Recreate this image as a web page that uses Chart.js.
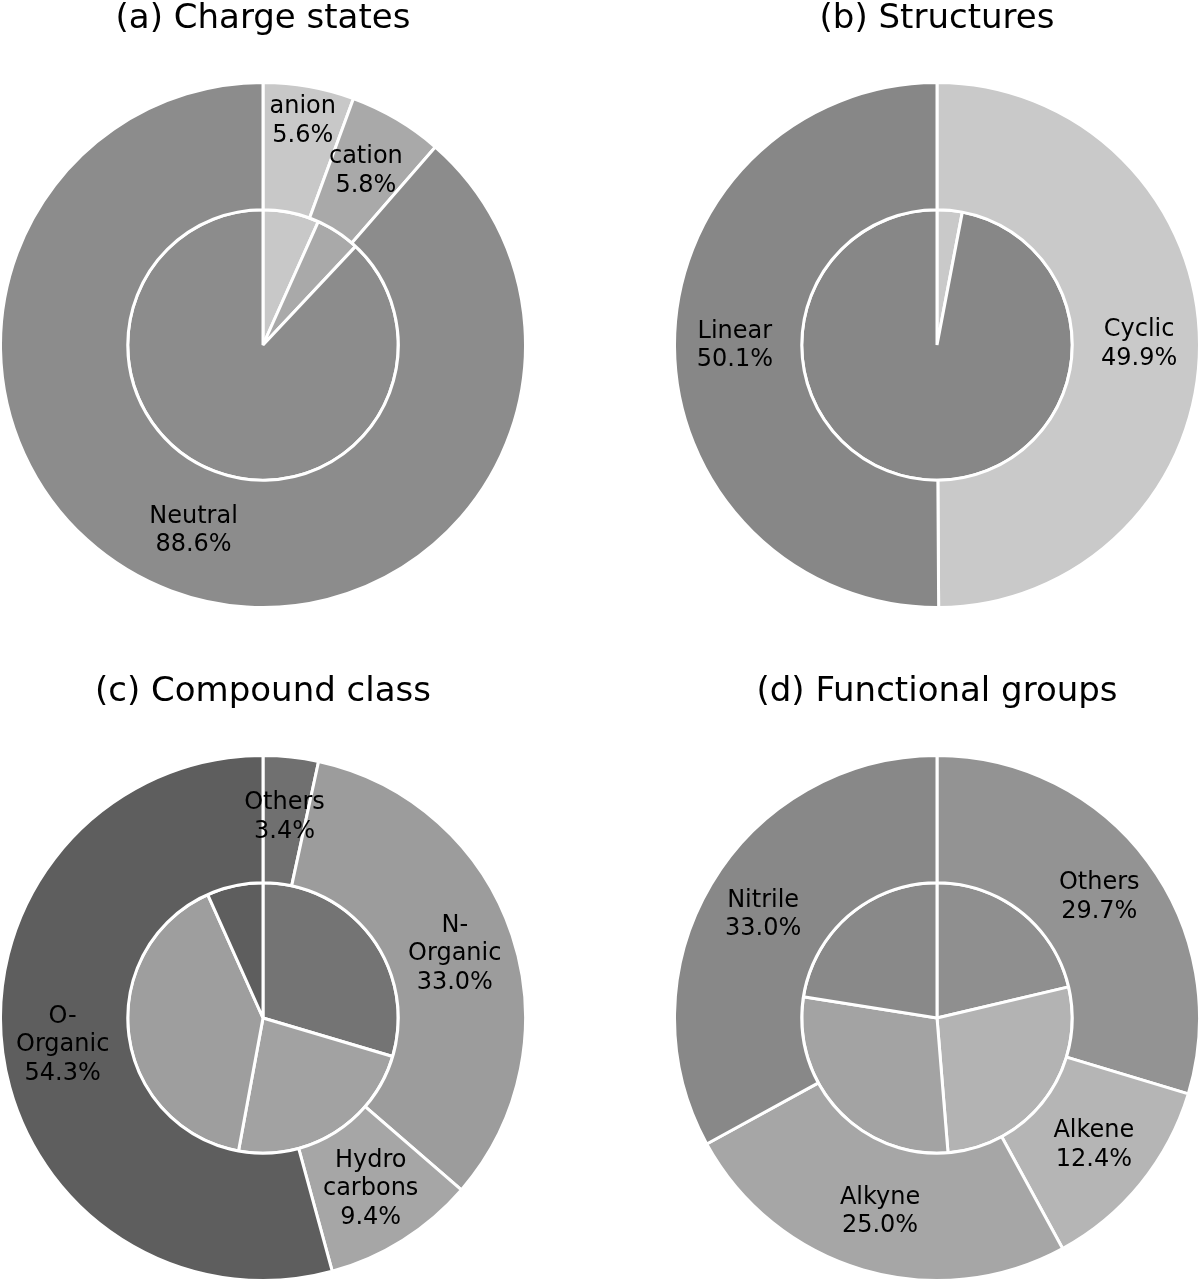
<!DOCTYPE html>
<html>
<head>
<meta charset="utf-8">
<script src="https://cdn.jsdelivr.net/npm/chart.js@4.4.0/dist/chart.umd.min.js"></script>
<style>
    body { margin: 0; background: #fff; width: 1200px; height: 1281px; overflow: hidden; position: relative; }
    canvas { position: absolute; }
</style>
</head>
<body>
<canvas id="chargeChart" width="528" height="616" style="left:-1px;top:-7px"></canvas>
<canvas id="structChart" width="528" height="616" style="left:673px;top:-7px"></canvas>
<canvas id="classChart" width="528" height="616" style="left:-1px;top:666px"></canvas>
<canvas id="groupChart" width="528" height="616" style="left:673px;top:666px"></canvas>
<script>
// (a) Charge states
const chargeLabels = ['anion', 'cation', 'Neutral'];
const chargeOuter = [5.6, 5.8, 88.6];
const chargeInner = [6.7, 5.3, 88.0];

// (b) Structures
const structLabels = ['Cyclic', 'Linear'];
const structOuter = [49.9, 50.1];
const structInner = [3.0, 97.0];

// (c) Compound class
const classLabels = ['Others', 'N-\nOrganic', 'Hydro\ncarbons', 'O-\nOrganic'];
const classOuter = [3.4, 33.0, 9.4, 54.3];
const classInner = [29.6, 23.3, 40.4, 6.7];

// (d) Functional groups
const groupLabels = ['Others', 'Alkene', 'Alkyne', 'Nitrile'];
const groupOuter = [29.7, 12.4, 25.0, 33.0];
const groupInner = [21.3, 27.4, 28.8, 22.5];

// writes "name / xx.x%" inside each outer wedge
const sliceLabels = {
    id: 'sliceLabels',
    afterDatasetsDraw(chart, args, opts) {
        const ctx = chart.ctx;
        const meta = chart.getDatasetMeta(0);
        const values = chart.data.datasets[0].data;
        ctx.save();
        ctx.font = '24px "DejaVu Sans"';
        ctx.fillStyle = '#000';
        ctx.textAlign = 'center';
        ctx.textBaseline = 'middle';
        meta.data.forEach((arc, i) => {
            const p = arc.getProps(['x', 'y', 'startAngle', 'endAngle', 'outerRadius']);
            const mid = (p.startAngle + p.endAngle) / 2;
            const d = (opts.dist && opts.dist[i]) || 0.77;
            const r = p.outerRadius * d;
            const x = p.x + Math.cos(mid) * r;
            const y = p.y + Math.sin(mid) * r;
            const lines = chart.data.labels[i].split('\n').concat(values[i].toFixed(1) + '%');
            const lh = 28.5;
            lines.forEach((t, k) => ctx.fillText(t, x, y + (k - (lines.length - 1) / 2) * lh));
        });
        ctx.restore();
    }
};

function makePanel(id, title, labels, outer, inner, outerColors, innerColors, dist) {
    const ctx = document.getElementById(id).getContext('2d');
    return new Chart(ctx, {
        type: 'pie',
        data: {
            labels: labels,
            datasets: [
                { data: outer, backgroundColor: outerColors, borderColor: '#fff', borderWidth: 3, weight: 127 },
                { data: inner, backgroundColor: innerColors, borderColor: '#fff', borderWidth: 3, weight: 135 }
            ]
        },
        options: {
            responsive: false,
            animation: false,
            layout: { padding: 0 },
            plugins: {
                legend: { display: false },
                tooltip: { enabled: false },
                title: {
                    display: true,
                    text: title,
                    color: '#000',
                    font: { family: 'DejaVu Sans', size: 34, weight: 'normal' },
                    padding: { top: 6, bottom: 41.2 }
                },
                sliceLabels: { dist: dist }
            }
        },
        plugins: [sliceLabels]
    });
}

makePanel('chargeChart', '(a) Charge states', chargeLabels, chargeOuter, chargeInner,
    ['#c8c8c8', '#a9a9a9', '#8c8c8c'], ['#c8c8c8', '#a9a9a9', '#8c8c8c'], [0.865, 0.77, 0.755]);
makePanel('structChart', '(b) Structures', structLabels, structOuter, structInner,
    ['#c9c9c9', '#878787'], ['#c9c9c9', '#878787'], null);
makePanel('classChart', '(c) Compound class', classLabels, classOuter, classInner,
    ['#707070', '#9c9c9c', '#a6a6a6', '#5e5e5e'], ['#747474', '#a2a2a2', '#9e9e9e', '#5e5e5e'], null);
makePanel('groupChart', '(d) Functional groups', groupLabels, groupOuter, groupInner,
    ['#939393', '#b5b5b5', '#a6a6a6', '#888888'], ['#8f8f8f', '#b3b3b3', '#a3a3a3', '#898989'], null);
</script>
</body>
</html>
